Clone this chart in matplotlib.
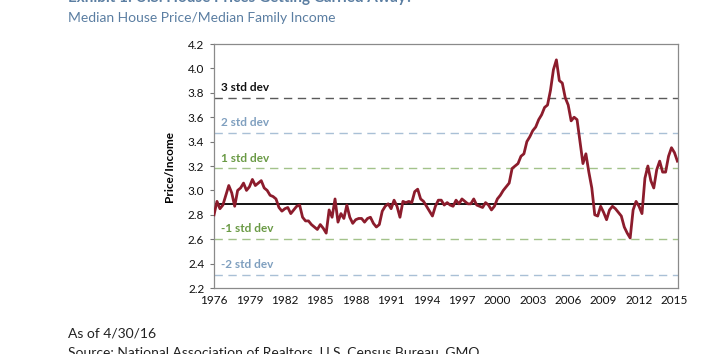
import matplotlib
matplotlib.use("Agg")
import matplotlib.pyplot as plt
import numpy as np

plt.rcParams['font.family'] = ['Lato', 'DejaVu Sans']

# quarterly median house price / median family income, 1976 Q1 onward
ratio = [
    2.80, 2.91, 2.85, 2.88,   # 1976
    2.96, 3.04, 2.98, 2.87,   # 1977
    3.00, 3.02, 3.06, 3.00,   # 1978
    3.03, 3.09, 3.04, 3.06,   # 1979
    3.08, 3.02, 3.00, 2.96,   # 1980
    2.95, 2.93, 2.86, 2.83,   # 1981
    2.85, 2.86, 2.81, 2.84,   # 1982
    2.87, 2.88, 2.78, 2.75,   # 1983
    2.75, 2.72, 2.70, 2.68,   # 1984
    2.72, 2.69, 2.65, 2.84,   # 1985
    2.78, 2.93, 2.74, 2.81,   # 1986
    2.77, 2.88, 2.78, 2.73,   # 1987
    2.76, 2.77, 2.77, 2.74,   # 1988
    2.77, 2.78, 2.73, 2.70,   # 1989
    2.72, 2.83, 2.87, 2.89,   # 1990
    2.85, 2.92, 2.87, 2.78,   # 1991
    2.91, 2.90, 2.91, 2.90,   # 1992
    2.99, 3.01, 2.93, 2.91,   # 1993
    2.87, 2.83, 2.79, 2.87,   # 1994
    2.92, 2.92, 2.88, 2.90,   # 1995
    2.88, 2.87, 2.92, 2.89,   # 1996
    2.93, 2.91, 2.89, 2.89,   # 1997
    2.93, 2.88, 2.87, 2.86,   # 1998
    2.90, 2.88, 2.84, 2.87,   # 1999
    2.93, 2.96, 3.00, 3.03,   # 2000
    3.06, 3.18, 3.20, 3.22,   # 2001
    3.28, 3.30, 3.40, 3.44,   # 2002
    3.49, 3.52, 3.58, 3.62,   # 2003
    3.68, 3.70, 3.82, 3.99,   # 2004
    4.07, 3.90, 3.88, 3.76,   # 2005
    3.70, 3.57, 3.60, 3.58,   # 2006
    3.40, 3.22, 3.30, 3.15,   # 2007
    3.02, 2.80, 2.79, 2.87,   # 2008
    2.82, 2.76, 2.84, 2.87,   # 2009
    2.85, 2.82, 2.79, 2.70,   # 2010
    2.65, 2.61, 2.84, 2.91,   # 2011
    2.87, 2.81, 3.10, 3.20,   # 2012
    3.08, 3.02, 3.17, 3.24,   # 2013
    3.15, 3.15, 3.28, 3.35,   # 2014
    3.31, 3.24,               # 2015
]
start_year = 1976

mean_level = 2.89
band_levels = [3.76, 3.47, 3.18, 2.60, 2.31]
band_labels = ['3 std dev', '2 std dev', '1 std dev', '-1 std dev', '-2 std dev']
band_colors = ['#5a5a5a', '#a9c0d6', '#a3c28a', '#a3c28a', '#a9c0d6']
label_colors = ['#111111', '#7f9fbf', '#6a9a45', '#6a9a45', '#7f9fbf']

year_ticks = list(range(1976, 2016, 3))
y_ticks = [2.2, 2.4, 2.6, 2.8, 3.0, 3.2, 3.4, 3.6, 3.8, 4.0, 4.2]

years = start_year + np.arange(len(ratio)) / 4

fig = plt.figure(figsize=(7.08, 3.54), dpi=100)
ax = fig.add_axes([0.3023, 0.1864, 0.6553, 0.6893])

for lvl, lab, c, lc in zip(band_levels, band_labels, band_colors, label_colors):
    ax.axhline(lvl, color=c, lw=1.0, ls=(0, (6, 4)), zorder=1)
    ax.text(1976.6, lvl + 0.085, lab, color=lc, fontsize=8.5, fontweight='bold',
            va='center', ha='left')
ax.axhline(mean_level, color='black', lw=1.3, zorder=2)

ax.plot(years, ratio, color='#8c1c2c', lw=2.0, zorder=3)

ax.set_xlim(1976, 2015.3)
ax.set_ylim(2.2, 4.2)
ax.set_xticks(year_ticks)
ax.set_yticks(y_ticks)
ax.set_yticklabels(['%.1f' % v for v in y_ticks])
ax.tick_params(axis='both', labelsize=8.5, colors='#111111', length=3, width=0.8)
ax.tick_params(axis='x', length=0, pad=5)
ax.tick_params(axis='y', pad=4, color='#777777')
for s in ax.spines.values():
    s.set_color('#8a8a8a')
    s.set_linewidth(0.9)
ax.set_ylabel('Price/Income', fontsize=8.5, fontweight='bold', labelpad=9)

title_col = '#5b7ea2'
fig.text(68 / 708, 1 + 2 / 354, 'Exhibit 1: U.S. House Prices Getting Carried Away?',
         fontsize=11, fontweight='bold', color=title_col, va='center')
fig.text(68 / 708, 1 - 18 / 354, 'Median House Price/Median Family Income',
         fontsize=10, color=title_col, va='center')
fig.text(68 / 708, 1 - 333 / 354, 'As of 4/30/16', fontsize=10, color='#222222',
         va='center')
fig.text(68 / 708, 1 - 352 / 354,
         'Source: National Association of Realtors, U.S. Census Bureau, GMO',
         fontsize=10, color='#222222', va='center')

fig.savefig('out.png', dpi=100)
